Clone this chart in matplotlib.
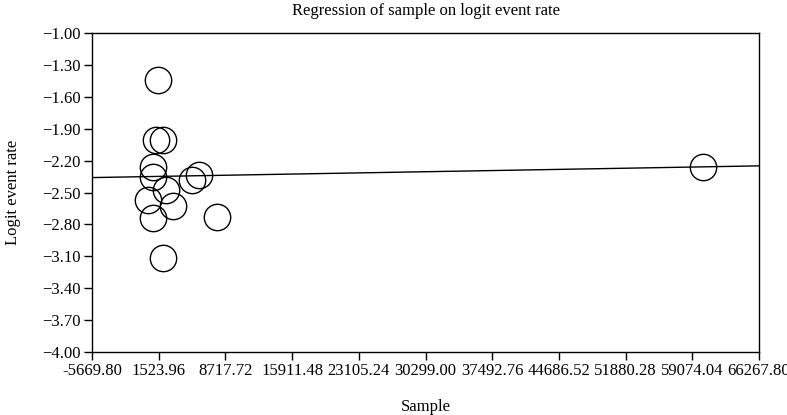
import numpy as np
import matplotlib
matplotlib.use('Agg')
import matplotlib.pyplot as plt

plt.rcParams['font.family'] = ['Liberation Serif', 'DejaVu Serif']
plt.rcParams['axes.unicode_minus'] = True

# study points: sample size vs logit event rate
sample = [1481, 1200, 2020, 941, 877, 2311, 402, 3098, 877, 2020, 5083, 5902, 7779, 60259]
logit_rate = [-1.44, -2.01, -2.01, -2.26, -2.35, -2.48, -2.57, -2.63, -2.74, -3.12,
              -2.38, -2.34, -2.73, -2.26]

# regression line (intercept, slope)
intercept = -2.351
slope = 1.53e-6

x_min, x_max = -5669.80, 66267.80
x_ticks = np.linspace(x_min, x_max, 11)
y_ticks = np.round(np.arange(-1.0, -4.01, -0.3), 2)

fig = plt.figure(figsize=(7.87, 4.15), dpi=100)
ax = fig.add_axes([92 / 787, 1 - 352 / 415, 667 / 787, 319 / 415])

xl = np.array([x_min, x_max])
ax.plot(xl, intercept + slope * xl, color='black', lw=1.0)
ax.plot(sample, logit_rate, 'o', ms=19, mfc='none', mec='black', mew=1.0, clip_on=False)

ax.set_xlim(x_min, x_max)
ax.set_ylim(-4.0, -1.0)
ax.set_xticks(x_ticks)
ax.set_xticklabels(['%.2f' % v for v in x_ticks], fontsize=12)
ax.set_yticks(y_ticks)
ax.set_yticklabels(['\u2212%.2f' % abs(v) for v in y_ticks], fontsize=12)
ax.tick_params(direction='out', length=6, width=1.0, pad=2)
for s in ax.spines.values():
    s.set_linewidth(1.0)

ax.set_title('Regression of sample on logit event rate', fontsize=12, pad=13)
ax.set_xlabel('Sample', fontsize=12, labelpad=14)
ax.set_ylabel('Logit event rate', fontsize=12, labelpad=15)

fig.savefig('out.png', dpi=100)
